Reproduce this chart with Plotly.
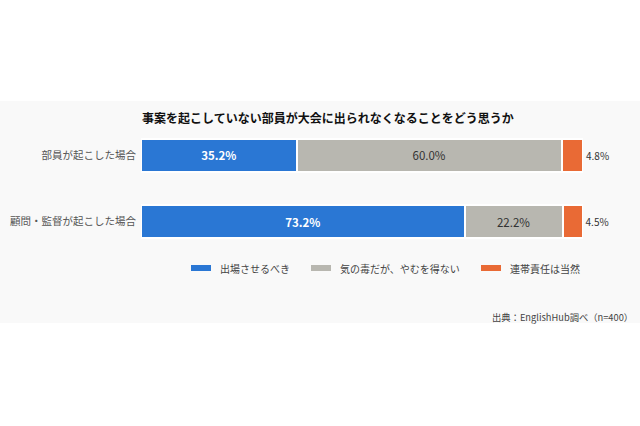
import plotly.graph_objects as go

categories = ["部員が起こした場合", "顧問・監督が起こした場合"]
series_names = ["出場させるべき", "気の毒だが、やむを得ない", "連帯責任は当然"]
should_play = [35.2, 73.2]
unfortunate = [60.0, 22.2]
joint_resp = [4.8, 4.5]
colors = ["#2a77d4", "#b8b7b0", "#e96a35"]

FONT = "Noto Sans CJK JP"
W, H = 640, 426
L, R, T, B = 141, W - 583, 122, H - 255
pw, ph = W - L - R, H - T - B


def px_x(x):
    return (x - L) / pw


def px_y(y):
    return (H - B - y) / ph


fig = go.Figure()
values = [should_play, unfortunate, joint_resp]
for i, (name, vals) in enumerate(zip(series_names, values)):
    if i == 0:
        tf = dict(color="white", size=11.5, family=FONT, weight="bold")
        pos = "inside"
    elif i == 1:
        tf = dict(color="#333333", size=11.5, family=FONT)
        pos = "inside"
    else:
        tf = dict(color="#333333", size=10, family=FONT)
        pos = "outside"
    fig.add_trace(go.Bar(
        y=categories, x=vals, name=name, orientation="h",
        marker=dict(color=colors[i], line=dict(color="white", width=2)),
        text=[f"{v:.1f}%" for v in vals], textposition=pos,
        insidetextanchor="middle", textangle=0,
        textfont=tf, outsidetextfont=tf, insidetextfont=tf,
        constraintext="none", cliponaxis=False, showlegend=False,
    ))

# background panel
fig.add_shape(type="rect", xref="paper", yref="paper",
              x0=px_x(0), x1=px_x(W), y0=px_y(323), y1=px_y(101),
              fillcolor="#f9f9f9", line_width=0, layer="below")

# title
fig.add_annotation(text="<b>事案を起こしていない部員が大会に出られなくなることをどう思うか</b>",
                   xref="paper", yref="paper", x=px_x(328), y=px_y(117),
                   yanchor="middle", showarrow=False,
                   font=dict(size=12, color="#111111", family=FONT))

# custom legend
sw_x = [191, 311, 481]
for i, name in enumerate(series_names):
    fig.add_shape(type="rect", xref="paper", yref="paper",
                  x0=px_x(sw_x[i]), x1=px_x(sw_x[i] + 20),
                  y0=px_y(271), y1=px_y(265), fillcolor=colors[i], line_width=0)
    fig.add_annotation(text=name, xref="paper", yref="paper",
                       x=px_x(sw_x[i] + 27), y=px_y(268), xanchor="left", yanchor="middle",
                       showarrow=False, font=dict(size=10, color="#444444", family=FONT))

# source
fig.add_annotation(text="出典：EnglishHub調べ（n=400）", xref="paper", yref="paper",
                   x=px_x(635), y=px_y(317), xanchor="right", yanchor="middle",
                   showarrow=False, font=dict(size=9.3, color="#444444", family=FONT))

fig.update_layout(
    width=W, height=H, barmode="stack", bargap=0.5,
    margin=dict(l=L, r=R, t=T, b=B, autoexpand=False),
    paper_bgcolor="white", plot_bgcolor="rgba(0,0,0,0)",
    font=dict(family=FONT),
    xaxis=dict(range=[0, 100], visible=False, fixedrange=True, automargin=False),
    yaxis=dict(autorange="reversed", showgrid=False, showline=False, ticks="",
               automargin=False, ticklabelstandoff=4,
               tickfont=dict(size=10.5, color="#555555", family=FONT)),
)

fig.write_html("out.html", config={"displayModeBar": False},
               post_script="document.body.style.margin='0';")
